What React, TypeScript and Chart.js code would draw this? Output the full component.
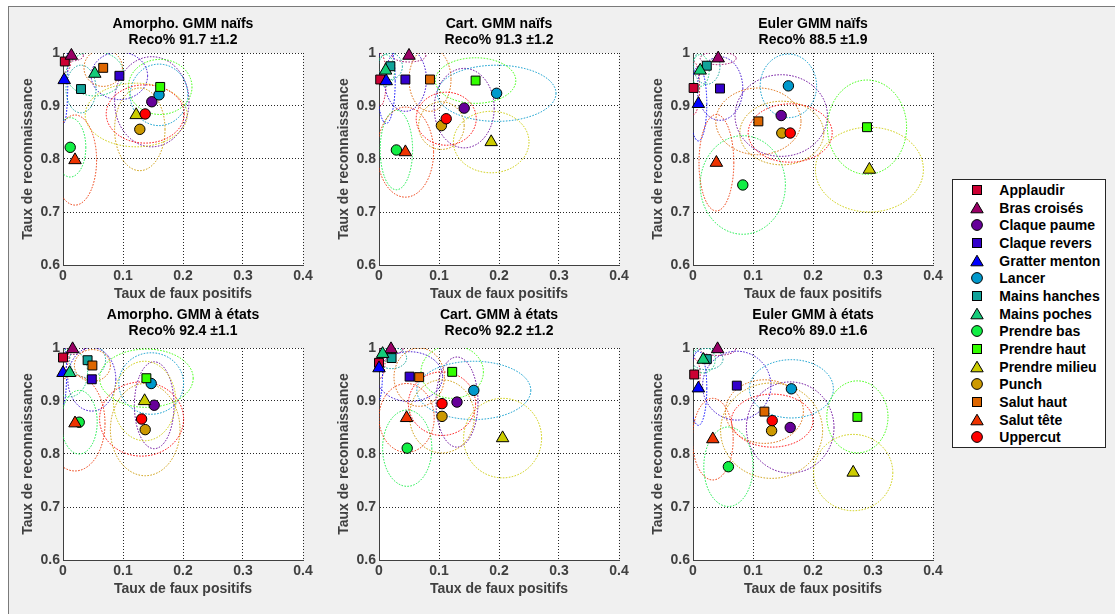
import React, { useEffect, useRef } from 'react';
import { Chart, registerables } from 'chart.js';

Chart.register(...registerables);

const FONT = '"Liberation Sans", Arial, Helvetica, sans-serif';
Chart.defaults.font.family = FONT;

// Gesture classes, their colours and marker shapes
const classNames = [
  'Applaudir', 'Bras croisés', 'Claque paume', 'Claque revers', 'Gratter menton',
  'Lancer', 'Mains hanches', 'Mains poches', 'Prendre bas', 'Prendre haut',
  'Prendre milieu', 'Punch', 'Salut haut', 'Salut tête', 'Uppercut',
];
const classColors = [
  '#cc0033', '#990066', '#660099', '#3300cc', '#0000ff',
  '#0099cc', '#11a39a', '#14cc7a', '#11ee44', '#33ff00',
  '#cccc00', '#cc9900', '#dd6600', '#ee3300', '#ff0000',
];
const classMarkers = [
  'rect', 'triangle', 'circle', 'rect', 'triangle',
  'circle', 'rect', 'triangle', 'circle', 'rect',
  'triangle', 'circle', 'rect', 'triangle', 'circle',
];

const xTickLabels = ['0', '0.1', '0.2', '0.3', '0.4'];
const yTickLabels = ['0.6', '0.7', '0.8', '0.9', '1'];

// Amorpho. GMM naïfs
const amorphoNaifsFpr = [0.003, 0.014, 0.148, 0.094, 0.002, 0.160, 0.030, 0.053, 0.012, 0.162, 0.122, 0.128, 0.067, 0.020, 0.137];
const amorphoNaifsTpr = [0.984, 0.995, 0.908, 0.957, 0.949, 0.921, 0.932, 0.961, 0.822, 0.936, 0.883, 0.856, 0.972, 0.798, 0.885];
const amorphoNaifsSdFpr = [0.010, 0.020, 0.062, 0.047, 0.006, 0.048, 0.025, 0.048, 0.026, 0.053, 0.085, 0.042, 0.032, 0.036, 0.065];
const amorphoNaifsSdTpr = [0.020, 0.010, 0.085, 0.045, 0.080, 0.058, 0.045, 0.042, 0.056, 0.052, 0.060, 0.078, 0.035, 0.085, 0.055];

// Cart. GMM naïfs
const cartNaifsFpr = [0.002, 0.050, 0.142, 0.044, 0.012, 0.196, 0.019, 0.011, 0.029, 0.161, 0.187, 0.104, 0.085, 0.044, 0.112];
const cartNaifsTpr = [0.950, 0.995, 0.896, 0.950, 0.947, 0.924, 0.975, 0.967, 0.817, 0.948, 0.832, 0.863, 0.950, 0.813, 0.876];
const cartNaifsSdFpr = [0.010, 0.028, 0.050, 0.035, 0.015, 0.099, 0.020, 0.015, 0.027, 0.067, 0.063, 0.038, 0.035, 0.047, 0.050];
const cartNaifsSdTpr = [0.050, 0.012, 0.075, 0.060, 0.080, 0.053, 0.025, 0.030, 0.075, 0.043, 0.058, 0.045, 0.060, 0.085, 0.050];

// Euler GMM naïfs
const eulerNaifsFpr = [0.001, 0.042, 0.147, 0.045, 0.009, 0.159, 0.023, 0.012, 0.083, 0.290, 0.294, 0.148, 0.109, 0.039, 0.162];
const eulerNaifsTpr = [0.934, 0.990, 0.882, 0.933, 0.904, 0.938, 0.976, 0.967, 0.751, 0.860, 0.780, 0.849, 0.871, 0.793, 0.849];
const eulerNaifsSdFpr = [0.010, 0.030, 0.077, 0.038, 0.014, 0.047, 0.022, 0.015, 0.071, 0.066, 0.090, 0.070, 0.071, 0.029, 0.070];
const eulerNaifsSdTpr = [0.050, 0.012, 0.077, 0.060, 0.070, 0.060, 0.035, 0.030, 0.093, 0.089, 0.080, 0.060, 0.063, 0.091, 0.055];

// Amorpho. GMM à états
const amorphoEtatsFpr = [0.000, 0.016, 0.152, 0.048, 0.000, 0.147, 0.041, 0.011, 0.027, 0.139, 0.136, 0.137, 0.049, 0.020, 0.131];
const amorphoEtatsTpr = [0.982, 0.998, 0.892, 0.941, 0.953, 0.933, 0.977, 0.953, 0.860, 0.943, 0.900, 0.846, 0.967, 0.858, 0.866];
const amorphoEtatsSdFpr = [0.010, 0.020, 0.033, 0.040, 0.006, 0.054, 0.030, 0.030, 0.030, 0.078, 0.052, 0.058, 0.030, 0.050, 0.070];
const amorphoEtatsSdTpr = [0.020, 0.010, 0.082, 0.060, 0.060, 0.058, 0.033, 0.045, 0.060, 0.055, 0.075, 0.087, 0.030, 0.090, 0.070];

// Cart. GMM à états
const cartEtatsFpr = [0.000, 0.020, 0.130, 0.051, 0.000, 0.158, 0.021, 0.006, 0.047, 0.122, 0.206, 0.105, 0.067, 0.046, 0.105];
const cartEtatsTpr = [0.972, 0.998, 0.898, 0.946, 0.962, 0.920, 0.981, 0.989, 0.811, 0.955, 0.830, 0.871, 0.945, 0.868, 0.895];
const cartEtatsSdFpr = [0.010, 0.020, 0.035, 0.055, 0.006, 0.095, 0.025, 0.015, 0.041, 0.052, 0.065, 0.054, 0.042, 0.046, 0.056];
const cartEtatsSdTpr = [0.030, 0.010, 0.085, 0.047, 0.060, 0.055, 0.020, 0.015, 0.072, 0.050, 0.075, 0.069, 0.055, 0.065, 0.060];

// Euler GMM à états
const eulerEtatsFpr = [0.002, 0.041, 0.162, 0.073, 0.009, 0.164, 0.023, 0.017, 0.059, 0.274, 0.267, 0.131, 0.119, 0.033, 0.132];
const eulerEtatsTpr = [0.950, 0.998, 0.850, 0.929, 0.924, 0.923, 0.979, 0.978, 0.776, 0.870, 0.765, 0.844, 0.880, 0.828, 0.863];
const eulerEtatsSdFpr = [0.010, 0.030, 0.073, 0.057, 0.014, 0.070, 0.027, 0.020, 0.041, 0.051, 0.066, 0.085, 0.065, 0.034, 0.068];
const eulerEtatsSdTpr = [0.030, 0.012, 0.086, 0.065, 0.070, 0.055, 0.020, 0.025, 0.075, 0.068, 0.072, 0.090, 0.060, 0.077, 0.050];

const panelTitles = [
  'Amorpho. GMM naïfs', 'Cart. GMM naïfs', 'Euler GMM naïfs',
  'Amorpho. GMM à états', 'Cart. GMM à états', 'Euler GMM à états',
];
const recoMeans = ['91.7', '91.3', '88.5', '92.4', '92.2', '89.0'];
const recoStds = ['1.2', '1.2', '1.9', '1.1', '1.2', '1.6'];

const panelSeries = [
  [amorphoNaifsFpr, amorphoNaifsTpr, amorphoNaifsSdFpr, amorphoNaifsSdTpr],
  [cartNaifsFpr, cartNaifsTpr, cartNaifsSdFpr, cartNaifsSdTpr],
  [eulerNaifsFpr, eulerNaifsTpr, eulerNaifsSdFpr, eulerNaifsSdTpr],
  [amorphoEtatsFpr, amorphoEtatsTpr, amorphoEtatsSdFpr, amorphoEtatsSdTpr],
  [cartEtatsFpr, cartEtatsTpr, cartEtatsSdFpr, cartEtatsSdTpr],
  [eulerEtatsFpr, eulerEtatsTpr, eulerEtatsSdFpr, eulerEtatsSdTpr],
];

// Layout of the 2x3 grid of axes (page pixels)
const PLOT_W = 240;
const PLOT_H = 212;
const Y_AXIS_W = 55;
const X_AXIS_H = 40;
const RIGHT_PAD = 20;
const colPlotLeft = [63, 379, 693];
const rowCanvasTop = [6, 300];
const rowTitlePad = [{ top: 10, bottom: 5 }, { top: 7, bottom: 9 }];

const markerRadius: Record<string, number> = { rect: 6.3, triangle: 7.2, circle: 5.2 };
const AXIS_TEXT = '#404040';

const whitePlotArea = {
  id: 'whitePlotArea',
  beforeDraw(chart: any) {
    const { ctx, chartArea: a } = chart;
    ctx.save();
    ctx.fillStyle = '#ffffff';
    ctx.fillRect(a.left, a.top, a.right - a.left, a.bottom - a.top);
    ctx.restore();
  },
};

// Dotted ellipse around each class mean, half-axes = spread on each rate
const spreadEllipses = {
  id: 'spreadEllipses',
  beforeDatasetsDraw(chart: any) {
    const { ctx, chartArea: a, scales } = chart;
    const xs = scales.x;
    const ys = scales.y;
    ctx.save();
    ctx.beginPath();
    ctx.rect(a.left, a.top, a.right - a.left, a.bottom - a.top);
    ctx.clip();
    ctx.lineWidth = 1;
    ctx.setLineDash([1.5, 1.5]);
    chart.data.datasets.forEach((ds: any) => {
      const p = ds.data[0];
      const cx = xs.getPixelForValue(p.x);
      const cy = ys.getPixelForValue(p.y);
      const rx = Math.abs(xs.getPixelForValue(p.x + ds.spreadX) - cx);
      const ry = Math.abs(ys.getPixelForValue(p.y + ds.spreadY) - cy);
      ctx.strokeStyle = ds.backgroundColor;
      ctx.beginPath();
      ctx.ellipse(cx, cy, rx, ry, 0, 0, Math.PI * 2);
      ctx.stroke();
    });
    ctx.restore();
  },
};

function Panel({ index }: { index: number }) {
  const ref = useRef<HTMLCanvasElement | null>(null);
  const row = Math.floor(index / 3);
  const col = index % 3;
  const pad = rowTitlePad[row];
  const titleH = pad.top + 32 + pad.bottom;
  const width = Y_AXIS_W + PLOT_W + RIGHT_PAD;
  const height = titleH + PLOT_H + X_AXIS_H;

  useEffect(() => {
    const [fpr, tpr, sdFpr, sdTpr] = panelSeries[index];
    const tickFont = { family: FONT, size: 14, weight: 'bold' as const };
    const chart = new Chart(ref.current as HTMLCanvasElement, {
      type: 'scatter',
      data: {
        datasets: classNames.map((name, i) => ({
          label: name,
          data: [{ x: fpr[i], y: tpr[i] }],
          spreadX: sdFpr[i],
          spreadY: sdTpr[i],
          pointStyle: classMarkers[i] as any,
          pointRadius: markerRadius[classMarkers[i]],
          pointHoverRadius: markerRadius[classMarkers[i]],
          backgroundColor: classColors[i],
          borderColor: '#000000',
          pointBorderWidth: 1,
          order: classNames.length - i,
          clip: false as any,
        })) as any,
      },
      options: {
        animation: false,
        responsive: false,
        events: [],
        layout: { padding: { left: 0, right: RIGHT_PAD, top: 0, bottom: 0 } },
        plugins: {
          legend: { display: false },
          tooltip: { enabled: false },
          title: {
            display: true,
            fullSize: false,
            text: [panelTitles[index], `Reco% ${recoMeans[index]} ±${recoStds[index]}`],
            color: '#000000',
            font: { family: FONT, size: 14, weight: 'bold', lineHeight: '16px' },
            padding: { top: pad.top, bottom: pad.bottom },
          },
        },
        scales: {
          x: {
            type: 'linear',
            position: 'bottom',
            min: 0,
            max: 0.4,
            afterFit: (s: any) => { s.height = X_AXIS_H; },
            ticks: {
              stepSize: 0.1,
              autoSkip: false,
              maxRotation: 0,
              padding: 3,
              color: AXIS_TEXT,
              font: tickFont,
              callback: (_v: any, i: number) => xTickLabels[i],
            },
            grid: { color: '#262626', lineWidth: 1, drawTicks: false },
            border: { display: true, color: '#404040', width: 1, dash: [1, 2] },
            title: {
              display: true,
              text: 'Taux de faux positifs',
              color: AXIS_TEXT,
              font: tickFont,
              padding: { top: 0, bottom: 2 },
            },
          },
          y: {
            type: 'linear',
            position: 'left',
            min: 0.6,
            max: 1,
            afterFit: (s: any) => { s.width = Y_AXIS_W; },
            ticks: {
              stepSize: 0.1,
              autoSkip: false,
              padding: 3,
              color: AXIS_TEXT,
              font: tickFont,
              callback: (_v: any, i: number) => yTickLabels[i],
            },
            grid: { color: '#262626', lineWidth: 1, drawTicks: false },
            border: { display: true, color: '#404040', width: 1, dash: [1, 2] },
            title: {
              display: true,
              text: 'Taux de reconnaissance',
              color: AXIS_TEXT,
              font: tickFont,
              padding: { top: 11.6, bottom: 0 },
            },
          },
        },
      } as any,
      plugins: [whitePlotArea, spreadEllipses],
    });
    return () => chart.destroy();
  }, [index]);

  return (
    <canvas
      ref={ref}
      width={width}
      height={height}
      style={{
        position: 'absolute',
        left: colPlotLeft[col] - Y_AXIS_W,
        top: rowCanvasTop[row],
        width,
        height,
      }}
    />
  );
}

function LegendMarker({ shape, color }: { shape: string; color: string }) {
  if (shape === 'rect') {
    return <rect x={3.5} y={3.5} width={9} height={9} fill={color} stroke="#000" strokeWidth={1} />;
  }
  if (shape === 'triangle') {
    return <polygon points="8,2.2 14.2,12.8 1.8,12.8" fill={color} stroke="#000" strokeWidth={1} />;
  }
  return <circle cx={8} cy={8} r={5.4} fill={color} stroke="#000" strokeWidth={1} />;
}

function Legend() {
  return (
    <div
      style={{
        position: 'absolute',
        left: 952,
        top: 179,
        width: 154,
        height: 269,
        background: '#ffffff',
        border: '1px solid #262626',
        boxSizing: 'border-box',
        fontFamily: FONT,
      }}
    >
      {classNames.map((name, i) => {
        const cy = 10 + i * 17.66;
        return (
          <div key={name} style={{ position: 'absolute', left: 0, top: cy - 9, width: '100%', height: 18 }}>
            <svg width={16} height={16} style={{ position: 'absolute', left: 23.7 - 8, top: 1 }}>
              <LegendMarker shape={classMarkers[i]} color={classColors[i]} />
            </svg>
            <span
              style={{
                position: 'absolute',
                left: 46.3,
                top: 0,
                lineHeight: '18px',
                fontSize: 14,
                fontWeight: 'bold',
                color: '#000',
                whiteSpace: 'nowrap',
              }}
            >
              {name}
            </span>
          </div>
        );
      })}
    </div>
  );
}

export default function App() {
  return (
    <div
      style={{
        position: 'absolute',
        left: 0,
        top: 0,
        width: 1115,
        height: 614,
        overflow: 'hidden',
        background: '#ffffff',
      }}
    >
      <div
        style={{
          position: 'absolute',
          left: 8,
          top: 6,
          width: 1107,
          height: 608,
          background: '#f0f0f0',
          borderLeft: '1px solid #7a7a7a',
          borderTop: '1px solid #7a7a7a',
          boxSizing: 'border-box',
        }}
      />
      {panelTitles.map((t, i) => (
        <Panel key={t} index={i} />
      ))}
      <Legend />
    </div>
  );
}
